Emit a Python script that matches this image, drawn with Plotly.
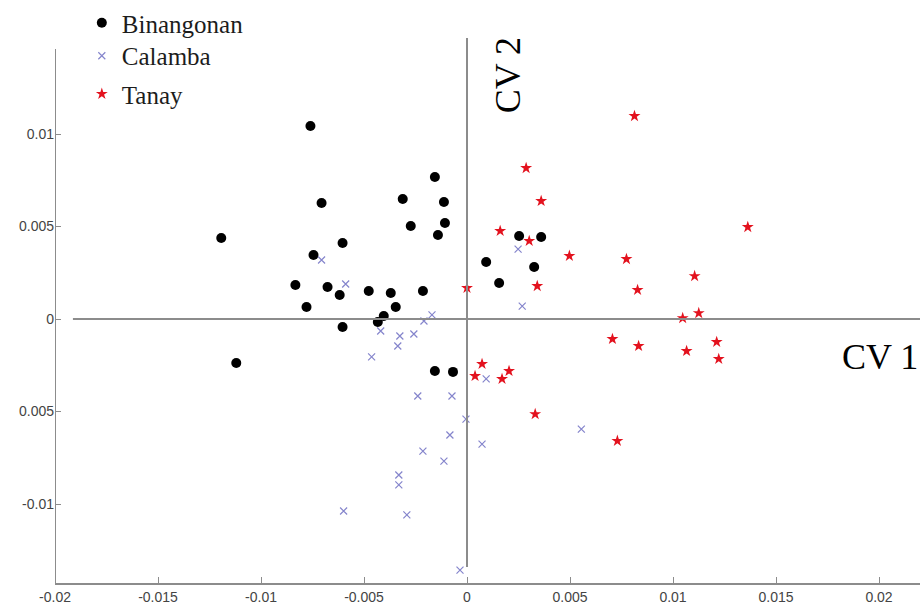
import plotly.graph_objects as go

# ---- data (CV1, CV2 scores) ----
bin_x = [-0.00760, -0.00156, -0.00312, -0.00112, -0.00706, -0.00273, -0.00107, -0.00141,
         -0.01193, -0.00604, -0.00745, 0.00093, -0.00833, -0.00677, -0.00618, -0.00477,
         -0.00370, -0.00214, -0.00779, -0.00346, -0.00404, -0.00433, -0.00604, 0.00253,
         0.00360, 0.00326, 0.00156, -0.01120, -0.00156, -0.00068]
bin_y = [0.01043, 0.00768, 0.00649, 0.00632, 0.00627, 0.00503, 0.00519, 0.00454,
         0.00438, 0.00411, 0.00346, 0.00308, 0.00184, 0.00173, 0.00130, 0.00151,
         0.00141, 0.00151, 0.00065, 0.00065, 0.00016, -0.00016, -0.00043, 0.00449,
         0.00443, 0.00281, 0.00195, -0.00238, -0.00281, -0.00286]

cal_x = [-0.00706, -0.00589, -0.00170, -0.00209, -0.00419, -0.00326, -0.00258, -0.00336,
         -0.00463, 0.00248, 0.00268, 0.00093, -0.00239, -0.00073, -0.00005, -0.00083,
         0.00073, -0.00214, -0.00112, -0.00331, -0.00331, -0.00599, -0.00292, -0.00034,
         0.00555]
cal_y = [0.00319, 0.00189, 0.00022, -0.00011, -0.00065, -0.00092, -0.00081, -0.00146,
         -0.00205, 0.00378, 0.00070, -0.00324, -0.00416, -0.00416, -0.00541, -0.00627,
         -0.00676, -0.00714, -0.00768, -0.00843, -0.00897, -0.01038, -0.01059, -0.01357,
         -0.00595]

tan_x = [0.00813, 0.00287, 0.00360, 0.00161, 0.00302, 0.01363, 0.00497, 0.00774,
         0.01105, 0.00828, 0.00341, 0.00000, 0.01047, 0.01125, 0.00706, 0.00833,
         0.01066, 0.01212, 0.01222, 0.00073, 0.00039, 0.00204, 0.00170, 0.00331,
         0.00730]
tan_y = [0.01097, 0.00816, 0.00638, 0.00476, 0.00422, 0.00497, 0.00341, 0.00324,
         0.00232, 0.00157, 0.00178, 0.00168, 0.00005, 0.00032, -0.00108, -0.00146,
         -0.00173, -0.00124, -0.00216, -0.00243, -0.00308, -0.00281, -0.00324, -0.00514,
         -0.00659]

x_tickvals = [-0.02, -0.015, -0.01, -0.005, 0, 0.005, 0.01, 0.015, 0.02]
x_ticktext = ["-0.02", "-0.015", "-0.01", "-0.005", "0", "0.005", "0.01", "0.015", "0.02"]
y_tickvals = [-0.01, -0.005, 0, 0.005, 0.01]
y_ticktext = ["-0.01", "0.005", "0", "0.005", "0.01"]

X_RANGE = [-0.02, 0.02199]
Y_RANGE = [-0.01427, 0.017243]
AXIS_GRAY = "#8c8c8c"
SERIF = "Liberation Serif, Times New Roman, serif"
SANS = "Liberation Sans, Arial, sans-serif"

fig = go.Figure()
fig.add_trace(go.Scatter(x=bin_x, y=bin_y, mode="markers", name="Binangonan",
                         marker=dict(symbol="circle", size=10, color="black"),
                         legend="legend", showlegend=True))
fig.add_trace(go.Scatter(x=cal_x, y=cal_y, mode="markers", name="Calamba",
                         marker=dict(symbol="x-thin-open", size=7, color="#8585cc",
                                     line=dict(width=1.2, color="#8585cc")),
                         legend="legend2", showlegend=True))
fig.add_trace(go.Scatter(x=tan_x, y=tan_y, mode="markers", name="Tanay",
                         marker=dict(symbol="star", size=9, color="#e3121e"),
                         legend="legend3", showlegend=True))

legend_common = dict(font=dict(family=SERIF, size=25, color="#1c1c1c"),
                     bgcolor="rgba(0,0,0,0)", borderwidth=0,
                     xanchor="left", itemwidth=30)
fig.update_layout(
    showlegend=True,
    legend=dict(x=0.031, y=1.0, yanchor="top", **legend_common),
    legend2=dict(x=0.031, y=0.904, yanchor="middle", **legend_common),
    legend3=dict(x=0.031, y=0.8386, yanchor="middle", **legend_common),
)

fig.update_xaxes(range=X_RANGE, tickvals=x_tickvals, ticktext=x_ticktext,
                 showgrid=False, zeroline=False, showline=True, linecolor=AXIS_GRAY,
                 linewidth=2, ticks="inside", ticklen=6, tickcolor=AXIS_GRAY,
                 tickfont=dict(family=SANS, size=14, color="#444444"))
fig.update_yaxes(range=Y_RANGE, tickvals=y_tickvals, ticktext=y_ticktext,
                 showgrid=False, zeroline=False, showline=False,
                 ticks="inside", ticklen=6, tickcolor=AXIS_GRAY,
                 tickfont=dict(family=SANS, size=14, color="#444444"))

shapes = [
    # left axis line
    dict(type="line", xref="x", yref="y", x0=-0.02, x1=-0.02, y0=Y_RANGE[0], y1=0.0146,
         line=dict(color=AXIS_GRAY, width=2)),
    # CV1 line
    dict(type="line", xref="x", yref="y", x0=-0.01913, x1=X_RANGE[1], y0=0, y1=0,
         line=dict(color=AXIS_GRAY, width=2)),
    # CV2 line
    dict(type="line", xref="x", yref="y", x0=0, x1=0, y0=-0.0134, y1=0.01519,
         line=dict(color=AXIS_GRAY, width=2)),
]

annotations = [
    dict(text="CV 2", x=0.00200, y=0.01318, xref="x", yref="y", showarrow=False,
         textangle=-90, font=dict(family=SERIF, size=36, color="black")),
    dict(text="CV 1", x=0.02005, y=-0.00205, xref="x", yref="y", showarrow=False,
         font=dict(family=SERIF, size=36, color="black")),
]

fig.update_layout(
    width=922, height=607,
    margin=dict(l=55, r=2, t=0, b=24),
    plot_bgcolor="white", paper_bgcolor="white",
    shapes=shapes, annotations=annotations,
)

fig.write_html("out.html", config={"displayModeBar": False},
               post_script="document.body.style.margin='0';document.body.style.overflow='hidden';")
